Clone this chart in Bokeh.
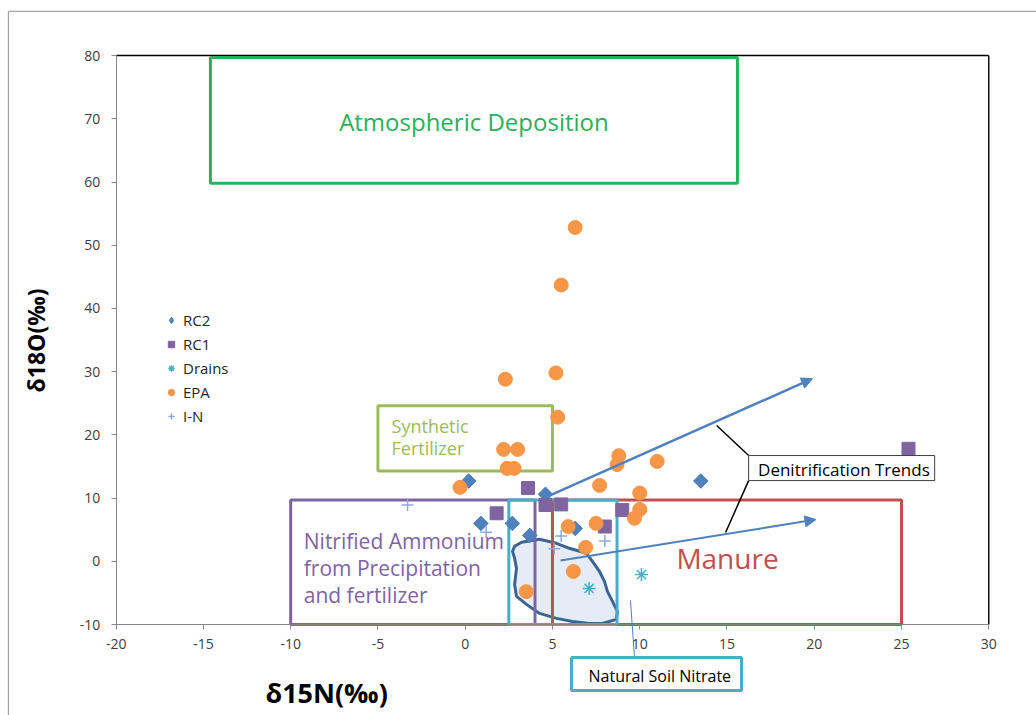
import math
from bokeh.plotting import figure
from bokeh.models import Range1d, FixedTicker, Arrow, NormalHead, Legend, LegendItem
from bokeh.core.properties import value
from bokeh.embed import file_html
from bokeh.resources import INLINE

# ---------------- data ----------------
rc2_x = [0.2, 4.6, 13.5, 0.9, 2.7, 3.7, 6.3]
rc2_y = [12.7, 10.6, 12.7, 6.0, 6.0, 4.1, 5.2]

rc1_x = [3.6, 1.8, 4.6, 5.5, 9.0, 8.0, 25.4]
rc1_y = [11.6, 7.6, 8.9, 9.0, 8.1, 5.5, 17.8]

drains_x = [7.1, 10.1]
drains_y = [-4.3, -2.1]

epa_x = [6.3, 5.5, 2.3, 5.2, 5.3, 2.2, 3.0, 2.4, 2.8, -0.3, 8.8, 8.7, 11.0,
         7.7, 10.0, 10.0, 9.7, 5.9, 7.5, 6.9, 6.2, 3.5]
epa_y = [52.8, 43.7, 28.8, 29.8, 22.8, 17.7, 17.7, 14.7, 14.7, 11.7, 16.7, 15.3, 15.8,
         12.0, 10.8, 8.2, 6.8, 5.5, 6.0, 2.2, -1.6, -4.8]

in_x = [-3.3, 1.2, 5.5, 5.1, 8.0]
in_y = [8.9, 4.6, 4.0, 2.0, 3.2]

x_ticks = [-20, -15, -10, -5, 0, 5, 10, 15, 20, 25, 30]
y_ticks = [-10, 0, 10, 20, 30, 40, 50, 60, 70, 80]

# source zones (delta15N range, delta18O range)
zone_names = ["Atmospheric Deposition", "Synthetic Fertilizer",
              "Nitrified Ammonium from Precipitation and fertilizer",
              "Manure", "Natural Soil Nitrate"]
zone_x0 = [-14.6, -5.0, -10.0, 5.0, 2.5]
zone_x1 = [15.6, 5.0, 4.0, 25.0, 8.7]
zone_y0 = [59.8, 14.3, -10.0, -10.0, -10.0]
zone_y1 = [79.7, 24.6, 9.7, 9.7, 9.7]
zone_colors = ["#2BB05A", "#9BBB59", "#8064A2", "#C0504D", "#4BACC6"]

# natural soil nitrate field outline
blob_x = [2.83, 3.23, 4.26, 5.23, 5.97, 6.95, 7.29, 7.69, 7.98, 8.15, 8.44, 8.72,
          8.66, 7.86, 7.12, 6.14, 5.23, 4.26, 3.51, 2.94, 2.83, 2.94, 2.83, 2.71]
blob_y = [2.38, 3.01, 3.49, 2.85, 2.06, 1.27, 0.0, -1.58, -3.17, -4.75, -6.34, -7.92,
          -9.19, -9.83, -9.83, -9.51, -9.03, -8.24, -6.81, -5.55, -3.65, -1.11, 0.48, 1.58]

# denitrification trend arrows
trend_x0 = [4.6, 5.46]
trend_y0 = [10.1, 0.13]
trend_x1 = [19.9, 20.1]
trend_y1 = [28.9, 6.6]

FONT = "Open Sans"

# The frame fills the whole canvas; axes are pinned at the plot-area edges.
p = figure(width=1036, height=715,
           x_range=Range1d(-26.627, 32.735), y_range=Range1d(-24.39, 88.71),
           output_backend="svg", toolbar_location=None,
           min_border=0)

p.xgrid.visible = False
p.ygrid.visible = False
p.outline_line_color = None
p.background_fill_color = "white"
p.border_fill_color = "white"

p.xaxis.fixed_location = -10
p.yaxis.fixed_location = -20
p.xaxis.bounds = (-20, 30)
p.yaxis.bounds = (-10, 80)
p.xaxis.ticker = FixedTicker(ticks=x_ticks)
p.yaxis.ticker = FixedTicker(ticks=y_ticks)
p.xaxis.major_label_overrides = {t: str(t) for t in x_ticks}
p.yaxis.major_label_overrides = {t: str(t) for t in y_ticks}
for ax in (p.xaxis[0], p.yaxis[0]):
    ax.axis_line_color = "#868686"
    ax.axis_line_width = 1
    ax.major_tick_line_color = "#868686"
    ax.major_tick_out = 5
    ax.major_tick_in = 0
    ax.minor_tick_line_color = None
    ax.major_label_text_font = FONT
    ax.major_label_text_font_size = "14px"
    ax.major_label_text_color = "#404040"
p.xaxis.major_label_standoff = 9
p.yaxis.major_label_standoff = 11

# outer chart-area border (left and top)
p.segment(x0=[-26.17, -26.17], y0=[-30, 87.0], x1=[-26.17, 40], y1=[87.0, 87.0],
          line_color="#a6a6a6", line_width=1.3)
# plot-area border (top and right)
p.segment(x0=[-20, 30], y0=[80, 80], x1=[30, 30], y1=[80, -10],
          line_color="black", line_width=1.4)

# natural soil nitrate field
p.patch(blob_x, blob_y, fill_color="#DCE6F2", fill_alpha=0.75,
        line_color="#3A6593", line_width=3)

# source zone boxes
p.quad(left=zone_x0, right=zone_x1, bottom=zone_y0, top=zone_y1,
       fill_color=None, line_color=zone_colors, line_width=3)

# zone texts
p.text(x=[(zone_x0[0] + zone_x1[0]) / 2], y=[69.6],
       text=["Atmospheric Deposition"], text_align="center", text_baseline="middle",
       text_font=value(FONT), text_font_size="24px", text_color=zone_colors[0])
p.text(x=[-4.22, -4.22], y=[21.45, 17.97],
       text=["Synthetic", "Fertilizer"], text_align="left", text_baseline="middle",
       text_font=value(FONT), text_font_size="18px", text_color=zone_colors[1])
p.text(x=[-9.25, -9.25, -9.25], y=[3.29, -1.08, -5.35],
       text=["Nitrified Ammonium", "from Precipitation", "and fertilizer"],
       text_align="left", text_baseline="middle",
       text_font=value(FONT), text_font_size="21px", text_color=zone_colors[2])
p.text(x=[15.03], y=[0.6], text=["Manure"], text_align="center", text_baseline="middle",
       text_font=value(FONT), text_font_size="28px", text_color=zone_colors[3])

# callout leader lines
p.segment(x0=[14.41, 16.24], y0=[21.48, 12.77], x1=[16.24, 14.92], y1=[16.73, 4.56],
          line_color="black", line_width=1.5)
p.segment(x0=[9.47], y0=[-6.2], x1=[9.70], y1=[-15.22],
          line_color="#4F81BD", line_width=1)

# trend arrows
for i in range(len(trend_x0)):
    p.add_layout(Arrow(end=NormalHead(size=11, fill_color="#4F81BD", line_color="#4F81BD"),
                       x_start=trend_x0[i], y_start=trend_y0[i],
                       x_end=trend_x1[i], y_end=trend_y1[i],
                       line_color="#4F81BD", line_width=2.5 if i == 0 else 2))

# data series
# legend key for RC2 (a diamond hidden under the rotated-square markers)
r_rc2_key = p.scatter(rc2_x, rc2_y, marker="diamond", size=13, color="#4F81BD")
r_rc2 = p.scatter(rc2_x, rc2_y, marker="square", angle=math.pi / 4, size=10.3,
                  color="#4F81BD")
r_rc1 = p.scatter(rc1_x, rc1_y, marker="square", size=13, color="#8064A2")
r_dr = p.scatter(drains_x, drains_y, marker="asterisk", size=13,
                 line_color="#4BACC6", line_width=1.5)
r_epa = p.scatter(epa_x, epa_y, marker="circle", size=14, color="#F79646")
r_in = p.scatter(in_x, in_y, marker="cross", size=12, line_color="#8EA9DB", line_width=1.5)

legend = Legend(items=[LegendItem(label="RC2", renderers=[r_rc2_key]),
                       LegendItem(label="RC1", renderers=[r_rc1]),
                       LegendItem(label="Drains", renderers=[r_dr]),
                       LegendItem(label="EPA", renderers=[r_epa]),
                       LegendItem(label="I-N", renderers=[r_in])],
                location=(163, 289))
legend.label_text_font = FONT
legend.label_text_font_size = "15px"
legend.label_text_color = "#262626"
legend.glyph_width = 16
legend.glyph_height = 16
legend.label_height = 20
legend.spacing = 4
legend.padding = 0
legend.margin = 0
legend.label_standoff = 4
legend.border_line_alpha = 0
legend.background_fill_alpha = 0
p.add_layout(legend)

# callout boxes
p.quad(left=[16.24], right=[26.9], bottom=[12.77], top=[16.73],
       fill_color="white", line_color="#404040", line_width=1)
p.text(x=[21.7], y=[14.5], text=["Denitrification Trends"], text_align="center",
       text_baseline="middle", text_font=value(FONT), text_font_size="17px",
       text_color="black")
p.quad(left=[6.09], right=[15.83], bottom=[-20.44], top=[-15.22],
       fill_color="white", line_color="#4BACC6", line_width=3)
p.text(x=[11.15], y=[-18.1], text=["Natural Soil Nitrate"], text_align="center",
       text_baseline="middle", text_font=value(FONT), text_font_size="16px",
       text_color="black")

# axis titles
p.text(x=[-24.62], y=[34.93], text=["δ18O(‰)"], angle=math.pi / 2,
       text_align="center", text_baseline="middle", text_font=value(FONT),
       text_font_size="23px", text_font_style="bold", text_color="black")
p.text(x=[-7.94], y=[-20.8], text=["δ15N(‰)"], text_align="center",
       text_baseline="middle", text_font=value(FONT),
       text_font_size="27px", text_font_style="bold", text_color="black")

open("out.html", "w").write(file_html(p, INLINE))
